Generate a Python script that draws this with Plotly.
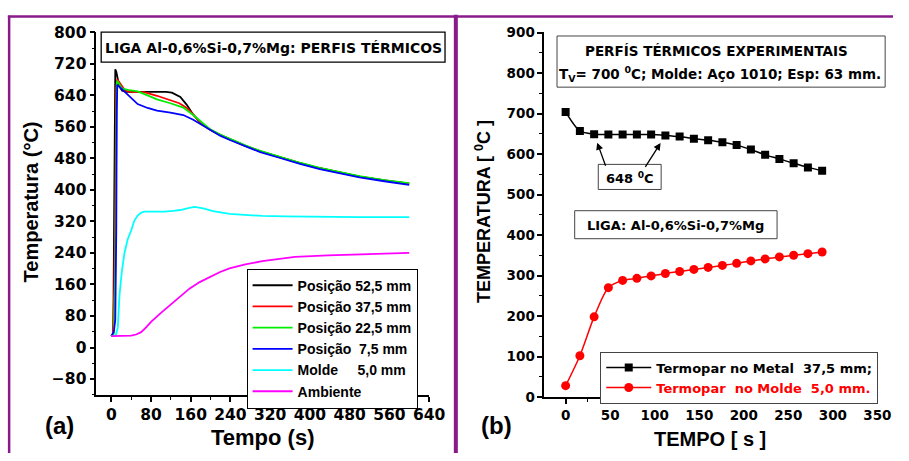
import plotly.graph_objects as go

W, H = 909, 461
def px(x): return x / W
def py(y): return 1 - y / H

# ---------------- data: panel (a) ----------------
t_52 = [0, 4, 5.5, 7, 8, 10, 12, 16, 22, 30, 50, 80, 110, 122, 132, 139, 152, 165, 182, 200, 220, 240, 270, 300, 340, 380, 420, 460, 500, 550, 600]
T_52 = [29, 35, 300, 680, 706, 700, 690, 663, 652, 649, 649, 649, 649, 647, 641, 636, 616, 591, 567, 552, 539, 528, 512, 498, 483, 468, 455, 444, 434, 424, 416]

t_37 = [0, 3, 6, 8, 10, 12, 15, 21, 28, 40, 66, 92, 119, 137, 152, 165, 182, 200, 220, 240, 270, 300, 340, 380, 420, 460, 500, 550, 600]
T_37 = [29, 32, 150, 450, 660, 681, 676, 664, 652, 649, 648, 639, 628, 620, 608, 592, 568, 552, 539, 528, 512, 498, 483, 468, 455, 444, 434, 424, 416]

t_22 = [0, 5, 8, 10, 11, 12, 16, 21, 33, 53, 73, 92, 119, 145, 165, 185, 200, 220, 240, 270, 300, 340, 380, 420, 460, 500, 550, 600]
T_22 = [29, 35, 200, 600, 670, 677, 668, 658, 654, 650, 640, 630, 620, 609, 590, 568, 553, 540, 529, 513, 499, 484, 469, 456, 445, 435, 425, 417]

t_7 = [0, 5, 8, 10, 11, 12, 16, 20, 30, 40, 53, 73, 92, 119, 145, 165, 185, 200, 220, 240, 270, 300, 340, 380, 420, 460, 500, 550, 600]
T_7 = [29, 40, 70, 300, 600, 667, 662, 657, 647, 632, 618, 608, 601, 596, 590, 578, 563, 551, 537, 526, 510, 496, 481, 466, 453, 442, 432, 422, 413]

t_mol = [0, 8, 10, 13, 16.5, 21, 26.5, 33, 40, 46, 53, 60, 66, 80, 106, 125, 139, 155, 168, 185, 205, 238, 270, 304, 350, 400, 500, 600]
T_mol = [29, 30, 35, 51, 133, 191, 240, 275, 297, 321, 335, 342, 345, 345, 345, 347, 349, 354, 357, 353, 346, 339, 336, 334, 333, 332, 331, 331]

t_amb = [0, 20, 40, 50, 60, 70, 80, 100, 119, 140, 158, 178, 198, 218, 238, 270, 304, 340, 370, 436, 500, 600]
T_amb = [29, 29, 30, 33, 39, 51, 65, 88, 109, 131, 150, 166, 179, 191, 201, 211, 219, 226, 230, 234, 237, 240]

names_a = ["Posição 52,5 mm", "Posição 37,5 mm", "Posição 22,5 mm",
           "Posição\u00a0 7,5 mm", "Molde\u00a0\u00a0\u00a0\u00a0 5,0 mm", "Ambiente"]
colors_a = ["#000000", "#ff0000", "#00ee00", "#0000ff", "#00ffff", "#ff00ff"]

# ---------------- data: panel (b) ----------------
t_b = [0, 16, 32, 48, 64, 80, 96, 112, 128, 144, 160, 176, 192, 208, 224, 240, 256, 272, 288]
T_metal = [704, 657, 649, 648, 648, 648, 648, 646, 643, 638, 634, 629, 622, 611, 598, 588, 577, 567, 559]
T_molde = [28, 102, 198, 270, 288, 293, 299, 305, 310, 315, 320, 325, 330, 336, 341, 346, 350, 354, 358]

fig = go.Figure()
series_a = [(t_52, T_52), (t_37, T_37), (t_22, T_22), (t_7, T_7), (t_mol, T_mol), (t_amb, T_amb)]
for (t, v), n, c in zip(series_a, names_a, colors_a):
    fig.add_trace(go.Scatter(x=t, y=v, mode="lines", name=n,
                             line=dict(color=c, width=1.8),
                             xaxis="x", yaxis="y", legend="legend"))

fig.add_trace(go.Scatter(x=t_b, y=T_metal, mode="lines+markers",
                         name="Termopar no Metal\u00a0 37,5 mm;",
                         line=dict(color="black", width=1.5, shape="spline", smoothing=0.8),
                         marker=dict(symbol="square", size=8, color="black"),
                         xaxis="x2", yaxis="y2", legend="legend2"))
fig.add_trace(go.Scatter(x=t_b, y=T_molde, mode="lines+markers",
                         name="<span style='color:#ff0000'>Termopar\u00a0 no Molde\u00a0 5,0 mm.</span>",
                         line=dict(color="#ff0000", width=1.5, shape="spline", smoothing=0.8),
                         marker=dict(symbol="circle", size=9, color="#ff0000"),
                         xaxis="x2", yaxis="y2", legend="legend2"))

def axis_style(fs, minor_dtick, dtick):
    return dict(showline=True, linecolor="black", linewidth=1.5, mirror=False,
                ticks="outside", ticklen=5, tickwidth=1.5, tickcolor="black",
                showgrid=False, zeroline=False, dtick=dtick, tick0=0,
                tickfont=dict(family="DejaVu Sans", size=fs, color="black", weight="bold"),
                minor=dict(ticks="outside", ticklen=3, tickwidth=1.2, tickcolor="black",
                           dtick=minor_dtick, tick0=0, showgrid=False))

fig.update_layout(
    width=W, height=H, margin=dict(l=0, r=0, t=0, b=0),
    paper_bgcolor="white", plot_bgcolor="white", showlegend=True,
    xaxis=dict(domain=[px(98), px(437)], range=[-30.3, 640.5], anchor="y", **axis_style(15.5, 40, 80)),
    yaxis=dict(domain=[py(400.7), py(25)], range=[-120, 800.5], anchor="x", **axis_style(15.5, 40, 80)),
    xaxis2=dict(domain=[px(554), px(894)], range=[-24, 351], anchor="y2", **axis_style(13.5, 25, 50)),
    yaxis2=dict(domain=[py(403), py(25)], range=[0, 901], anchor="x2", **axis_style(13.5, 50, 100)),
    legend=dict(x=px(251), y=py(270), xanchor="left", yanchor="top",
                bordercolor="black", borderwidth=1, bgcolor="white",
                font=dict(family="Liberation Sans", size=14, color="black", weight="bold"),
                tracegroupgap=0, itemwidth=40),
    legend2=dict(x=px(611), y=py(356), xanchor="left", yanchor="top",
                 bordercolor="#444444", borderwidth=1, bgcolor="white",
                 font=dict(family="DejaVu Sans", size=13, color="black", weight="bold"),
                 tracegroupgap=0, itemwidth=45),
)

purple = "#8a1a8a"
shapes = [
    dict(type="line", xref="paper", yref="paper", x0=px(8), x1=1, y0=py(8.7), y1=py(8.7), line=dict(color=purple, width=2.5)),
    dict(type="line", xref="paper", yref="paper", x0=px(9.3), x1=px(9.3), y0=py(8), y1=0, line=dict(color=purple, width=2.5)),
    dict(type="line", xref="paper", yref="paper", x0=px(464), x1=px(464), y0=py(7), y1=0, line=dict(color=purple, width=4)),
]
boxes = [((103, 25, 453, 56), "black", 1.3),
         ((567, 29, 901, 82), "#444444", 1),
         ((609, 162, 673, 188), "#444444", 1),
         ((585, 210, 791, 239), "#444444", 1)]
for (x0, y0, x1, y1), col, lw in boxes:
    shapes.append(dict(type="rect", xref="paper", yref="paper", x0=px(x0), x1=px(x1),
                       y0=py(y1), y1=py(y0), line=dict(color=col, width=lw), fillcolor="white", layer="below"))
fig.update_layout(shapes=shapes)

def ann(x, y, text, fam, size, angle=0, color="black"):
    return dict(x=px(x), y=py(y), xref="paper", yref="paper", text=text, showarrow=False,
                xanchor="center", yanchor="middle", textangle=angle,
                font=dict(family=fam, size=size, color=color, weight="bold"))

anns = [
    ann(278, 41, "LIGA Al-0,6%Si-0,7%Mg: PERFIS TÉRMICOS", "DejaVu Sans", 14),
    ann(32, 201, "Temperatura (°C)", "Liberation Sans", 20, -90),
    ann(267, 445, "Tempo (s)", "Liberation Sans", 22),
    ann(61, 432, "(a)", "Liberation Sans", 24),
    ann(729, 45, "PERFÍS TÉRMICOS EXPERIMENTAIS", "DejaVu Sans", 13.5),
    ann(733, 68, "T<sub>V</sub>= 700 <sup>0</sup>C; Molde: Aço 1010; Esp: 63 mm.", "DejaVu Sans", 13.5),
    ann(641, 176, "648 <sup>0</sup>C", "DejaVu Sans", 13),
    ann(688, 225, "LIGA: Al-0,6%Si-0,7%Mg", "DejaVu Sans", 13),
    ann(492, 211, "TEMPERATURA [ <sup>0</sup>C ]", "Liberation Sans", 18, -90),
    ann(723, 447, "TEMPO [ s ]", "Liberation Sans", 20),
    ann(505, 432, "(b)", "Liberation Sans", 24),
]
# arrows pointing at the 648 °C plateau points of the metal curve
for idx, axp in [(2, 12), (7, -21)]:
    anns.append(dict(x=t_b[idx], y=T_metal[idx], xref="x2", yref="y2", text="",
                     showarrow=True, arrowhead=2, arrowsize=1.1, arrowwidth=1.3,
                     arrowcolor="black", ax=axp, ay=33, standoff=9))
fig.update_layout(annotations=anns)

fig.write_html("out.html")
